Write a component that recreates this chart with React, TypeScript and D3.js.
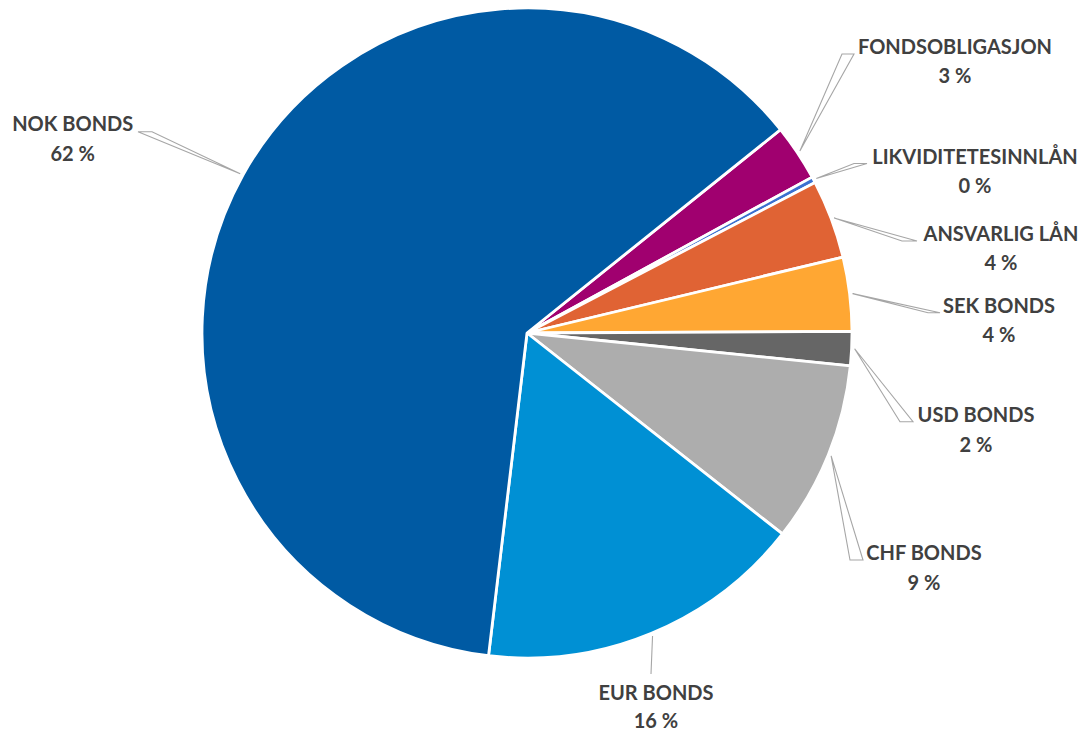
import React from "react";
import * as d3 from "d3";

// ---- data ----
const categories = [
  "FONDSOBLIGASJON",
  "LIKVIDITETESINNLÅN",
  "ANSVARLIG LÅN",
  "SEK BONDS",
  "USD BONDS",
  "CHF BONDS",
  "EUR BONDS",
  "NOK BONDS",
];
const shares = [2.8, 0.3, 3.91, 3.67, 1.69, 9.0, 16.28, 62.35];
const percentLabels = ["3 %", "0 %", "4 %", "4 %", "2 %", "9 %", "16 %", "62 %"];
const colors = [
  "#A0006F",
  "#3B6FCF",
  "#E06334",
  "#FFA733",
  "#666666",
  "#ADADAD",
  "#0090D4",
  "#005AA3",
];

// ---- layout (label placement, hand-positioned like the original) ----
const labelLayout = [
  { cx: 955, b1: 54, b2: 83, ex1: 842, ex2: 854, ey: 54 },
  { cx: 975, b1: 164, b2: 193, ex1: 854, ex2: 867, ey: 163.5 },
  { cx: 1001, b1: 241, b2: 269.5, ex1: 902, ex2: 917, ey: 241 },
  { cx: 999, b1: 312.7, b2: 341.7, ex1: 928, ex2: 940, ey: 312.7 },
  { cx: 976, b1: 421.7, b2: 451.7, ex1: 900, ex2: 913, ey: 421.7 },
  { cx: 924, b1: 560, b2: 590, ex1: 850, ex2: 863, ey: 560 },
  { cx: 656, b1: 700, b2: 728, ex1: 651, ex2: 651, ey: 674 },
  { cx: 72.7, b1: 130.7, b2: 161, ex1: 138, ex2: 152, ey: 131.7 },
];

const W = 1086;
const H = 731;
const CX = 527;
const CY = 333;
const R = 325;
const START = (51.26 * Math.PI) / 180;

export default function App() {
  const pie = d3
    .pie<number>()
    .sort(null)
    .value((d) => d)
    .startAngle(START)
    .endAngle(START + Math.PI * 2);
  const arcs = pie(shares);
  const arc = d3.arc<d3.PieArcDatum<number>>().innerRadius(0).outerRadius(R);

  const font = "Lato, 'Open Sans', sans-serif";

  return (
    <svg
      width={W}
      height={H}
      style={{ position: "absolute", left: 0, top: 0, background: "#fff" }}
    >
      <g transform={`translate(${CX},${CY})`}>
        {arcs.map((a, i) => (
          <path
            key={categories[i]}
            d={arc(a) || ""}
            fill={colors[i]}
            stroke="#fff"
            strokeWidth={2.8}
            strokeLinejoin="round"
          />
        ))}
      </g>
      {arcs.map((a, i) => {
        const mid = (a.startAngle + a.endAngle) / 2;
        const tr = R + 3;
        const tx = CX + tr * Math.sin(mid);
        const ty = CY - tr * Math.cos(mid);
        const L = labelLayout[i];
        return (
          <polygon
            key={"l" + i}
            points={`${tx},${ty} ${L.ex1},${L.ey} ${L.ex2},${L.ey}`}
            fill="#fff"
            stroke="#A6A6A6"
            strokeWidth={1.1}
            strokeLinejoin="miter"
          />
        );
      })}
      {categories.map((c, i) => {
        const L = labelLayout[i];
        return (
          <g key={"t" + i} fill="#404040" fontFamily={font} fontWeight={700} fontSize={20} textAnchor="middle">
            <text x={L.cx} y={L.b1}>{c}</text>
            <text x={L.cx} y={L.b2}>{percentLabels[i]}</text>
          </g>
        );
      })}
    </svg>
  );
}
